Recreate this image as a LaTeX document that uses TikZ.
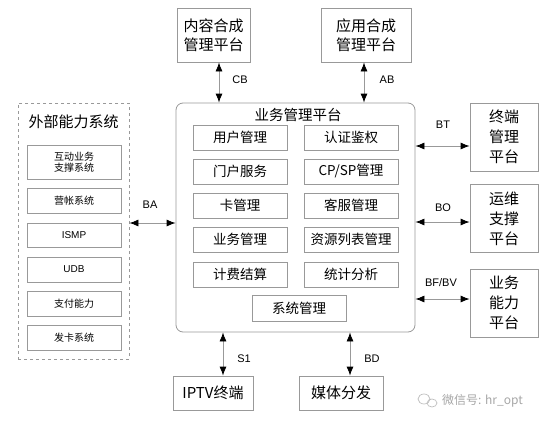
\documentclass[tikz,border=0pt]{standalone}
\usepackage{fontspec}
\setmainfont{Liberation Sans}
\newfontfamily\cjk{Noto Sans CJK SC}
\usetikzlibrary{arrows.meta}
\definecolor{bord}{HTML}{999999}
\tikzset{
  box/.style={draw=bord, line width=0.8pt, inner sep=0pt, align=center, font=\cjk\fontsize{13.5}{15}\selectfont},
  sbox/.style={box, minimum width=94pt, minimum height=25pt},
  lbox/.style={box, minimum width=94pt, font=\cjk\fontsize{10}{13}\selectfont},
  bigbox/.style={box, font=\cjk\fontsize{15}{20}\selectfont},
  arr/.style={draw=bord, line width=0.8pt, {Latex[length=9pt,width=7pt,color=black]}-{Latex[length=9pt,width=7pt,color=black]}},
  lab/.style={font=\fontsize{11}{13}\selectfont, inner sep=0pt}
}
\begin{document}
\begin{tikzpicture}[x=1pt,y=-1pt]
\useasboundingbox (0,0) rectangle (557,434);
% external
\node[draw=bord, dashed, line width=0.8pt, minimum width=111pt, minimum height=256pt, inner sep=0pt] (ext) at (73.5,231) {};
\node[font=\cjk\fontsize{15}{18}\selectfont, inner sep=0pt] (extt) at (73.5,122) {外部能力系统};
\node[lbox, minimum height=34pt] (e1) at (74,162) {互动业务\\[-2pt]支撑系统};
\node[lbox, minimum height=25pt] (e2) at (74,200.5) {营帐系统};
\node[lbox, minimum height=24pt, font=\fontsize{10}{12}\selectfont] (e3) at (74,235) {ISMP};
\node[lbox, minimum height=25pt, font=\fontsize{10}{12}\selectfont] (e4) at (74,269.5) {UDB};
\node[lbox, minimum height=25pt] (e5) at (74,303.5) {支付能力};
\node[lbox, minimum height=25pt] (e6) at (74,337.5) {发卡系统};
% main
\node[draw=bord, line width=0.8pt, rounded corners=7pt, minimum width=239pt, minimum height=229pt, inner sep=0pt] (main) at (295.5,217.5) {};
\node[font=\cjk\fontsize{14.5}{17}\selectfont, inner sep=0pt] (maint) at (298,115) {业务管理平台};
\node[sbox] (m11) at (240,137.5) {用户管理};
\node[sbox] (m12) at (351,137.5) {认证鉴权};
\node[sbox] (m21) at (240,171.5) {门户服务};
\node[sbox] (m22) at (351,171.5) {CP/SP管理};
\node[sbox] (m31) at (240,205.5) {卡管理};
\node[sbox] (m32) at (351,205.5) {客服管理};
\node[sbox] (m41) at (240,239.5) {业务管理};
\node[sbox] (m42) at (351,239.5) {资源列表管理};
\node[sbox] (m51) at (240,274.5) {计费结算};
\node[sbox] (m52) at (351,274.5) {统计分析};
\node[sbox, minimum height=26pt] (m6) at (299,308) {系统管理};
% top
\node[bigbox, minimum width=73pt, minimum height=54pt] (nr) at (213.5,35) {内容合成\\[-1pt]管理平台};
\node[bigbox, minimum width=90pt, minimum height=54pt] (yy) at (366,35) {应用合成\\[-1pt]管理平台};
% right
\node[bigbox, minimum width=68pt, minimum height=68pt] (zd) at (504,137) {终端\\管理\\平台};
\node[bigbox, minimum width=68pt, minimum height=68pt] (yw) at (504,218.5) {运维\\支撑\\平台};
\node[bigbox, minimum width=68pt, minimum height=68pt] (yn) at (504,303) {业务\\能力\\平台};
% bottom
\node[bigbox, minimum width=80pt, minimum height=34pt] (iptv) at (213,393) {IPTV终端};
\node[bigbox, minimum width=84pt, minimum height=34pt] (mt) at (341,393) {媒体分发};
% connector positions
\coordinate (cbx) at (219,0);
\coordinate (abx) at (364,0);
\coordinate (s1x) at (223,0);
\coordinate (bdx) at (350,0);
\coordinate (bay) at (0,223);
\coordinate (bty) at (0,146);
\coordinate (boy) at (0,222);
\coordinate (bfy) at (0,299);
\draw[arr] (nr.south -| cbx) -- (main.north -| cbx);
\draw[arr] (yy.south -| abx) -- (main.north -| abx);
\draw[arr] (main.south -| s1x) -- (iptv.north -| s1x);
\draw[arr] (main.south -| bdx) -- (mt.north -| bdx);
\draw[arr] (ext.east |- bay) -- (main.west |- bay);
\draw[arr] (main.east |- bty) -- (zd.west |- bty);
\draw[arr] (main.east |- boy) -- (yw.west |- boy);
\draw[arr] (main.east |- bfy) -- (yn.west |- bfy);
% labels
\node[lab] (lcb) at (240,80) {CB};
\node[lab] (lab) at (387,80) {AB};
\node[lab] (ls1) at (244,359) {S1};
\node[lab] (lbd) at (372,359) {BD};
\node[lab] (lba) at (150,205) {BA};
\node[lab] (lbt) at (443,125) {BT};
\node[lab] (lbo) at (443,208) {BO};
\node[lab] (lbf) at (441,283) {BF/BV};
% watermark
\draw[gray!50, line width=0.7pt] (424,399) ellipse (6pt and 5pt);
\draw[gray!50, line width=0.7pt] (432,403) ellipse (5pt and 4pt);
\node[font=\cjk\fontsize{12}{14}\selectfont, text=gray!70, inner sep=0pt, anchor=west] (wm) at (442,401) {微信号: hr\_opt};
\end{tikzpicture}
\end{document}
